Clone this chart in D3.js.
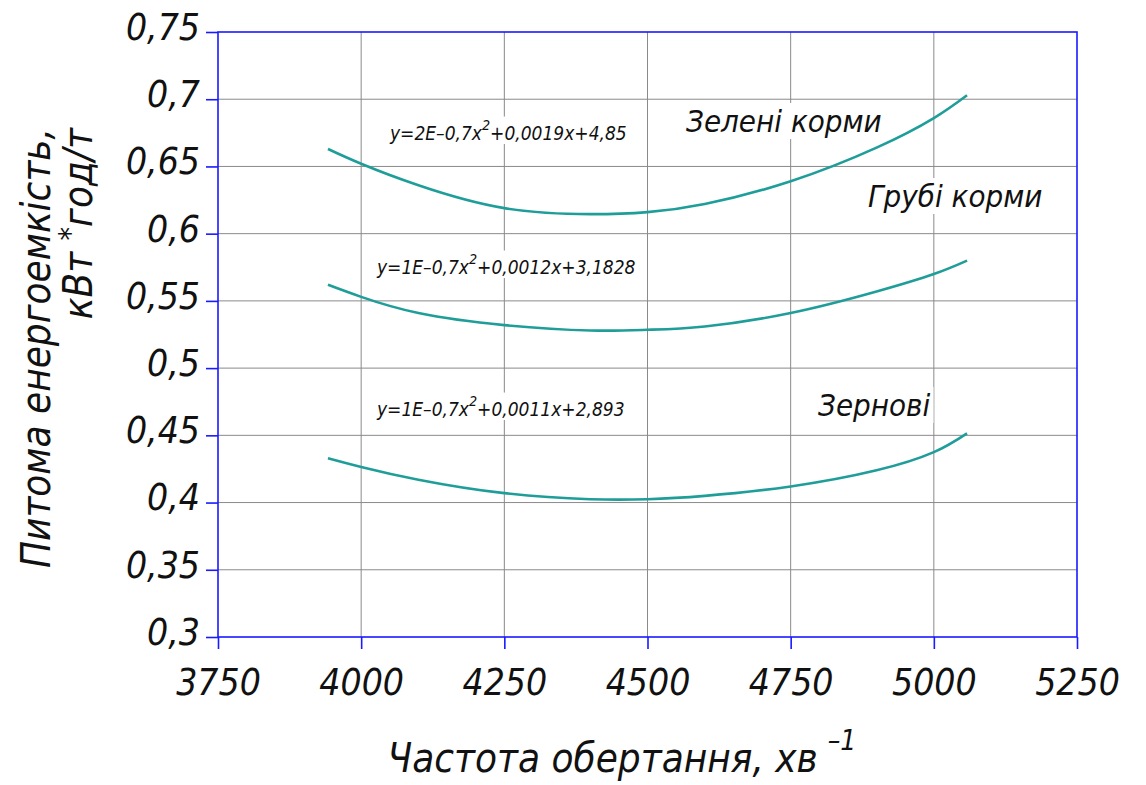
<!DOCTYPE html>
<meta charset="utf-8">
<head>
  <meta charset="utf-8">
  <title>Питома енергоемкість</title>
  <script src="https://d3js.org/d3.v7.min.js"></script>
</head>
<style>
body {margin:0; background:#fff;}
text {font-family: "DejaVu Sans Condensed", "Liberation Sans Narrow", sans-serif; font-style: italic; fill:#111;}
.grid line {stroke:#8a8a8a; stroke-width:1px;}
.axis path, .axis line {stroke:#1a1aff; stroke-width:1.6px;}
.curve {fill:none; stroke:#1f9e99; stroke-width:2.6px;}
</style>
<body>
<script>

// data
var xTicks = [3750, 4000, 4250, 4500, 4750, 5000, 5250];
var xTickLabels = ["3750", "4000", "4250", "4500", "4750", "5000", "5250"];
var yTicks = [0.3, 0.35, 0.4, 0.45, 0.5, 0.55, 0.6, 0.65, 0.7, 0.75];
var yTickLabels = ["0,3", "0,35", "0,4", "0,45", "0,5", "0,55", "0,6", "0,65", "0,7", "0,75"];

var rpm = [3942, 4000, 4100, 4250, 4400, 4500, 4600, 4750, 4900, 5000, 5058];
var zeleni = [0.663, 0.652, 0.636, 0.619, 0.6145, 0.616, 0.622, 0.639, 0.664, 0.686, 0.703];
var grubi = [0.562, 0.553, 0.541, 0.532, 0.528, 0.5285, 0.531, 0.541, 0.557, 0.570, 0.580];
var zernovi = [0.433, 0.4265, 0.417, 0.407, 0.4025, 0.4025, 0.405, 0.412, 0.424, 0.4375, 0.4515];

var seriesNames = ["Зелені корми", "Грубі корми", "Зернові"];
var equations = ["y=2E\u20130,7x", "y=1E\u20130,7x", "y=1E\u20130,7x"];
var equationTails = ["+0,0019x+4,85", "+0,0012x+3,1828", "+0,0011x+2,893"];

var margin = {top: 32, right: 69, bottom: 148, left: 218},
    width = 1146 - margin.left - margin.right,
    height = 785 - margin.top - margin.bottom;

var svg = d3.select("body").append("svg")
    .attr("width", 1146)
    .attr("height", 785)
  .append("g")
    .attr("transform", "translate(" + margin.left + "," + margin.top + ")");

var x = d3.scaleLinear().range([0, width]).domain([3750, 5250]);
var y = d3.scaleLinear().range([height, 0]).domain([0.3, 0.75]);

// grid
svg.append("g").attr("class", "grid")
  .selectAll("line").data(xTicks.slice(1, -1)).enter().append("line")
    .attr("x1", function(d) { return x(d); }).attr("x2", function(d) { return x(d); })
    .attr("y1", 0).attr("y2", height);
svg.append("g").attr("class", "grid")
  .selectAll("line").data(yTicks.slice(1, -1)).enter().append("line")
    .attr("y1", function(d) { return y(d); }).attr("y2", function(d) { return y(d); })
    .attr("x1", 0).attr("x2", width);

// curves
var valueline = d3.line()
    .x(function(d) { return x(d[0]); })
    .y(function(d) { return y(d[1]); })
    .curve(d3.curveNatural);

[zeleni, grubi, zernovi].forEach(function(s) {
  svg.append("path")
    .datum(d3.zip(rpm, s))
    .attr("class", "curve")
    .attr("d", valueline);
});

// box
svg.append("rect").attr("width", width).attr("height", height)
  .attr("fill", "none").attr("stroke", "#1a1aff").attr("stroke-width", 1.6);

// axes
var xAxis = svg.append("g").attr("class", "axis")
    .attr("transform", "translate(0," + height + ")")
    .call(d3.axisBottom(x).tickValues(xTicks).tickSize(12).tickSizeOuter(0)
      .tickFormat(function(d, i) { return xTickLabels[i]; }));
xAxis.selectAll("text").attr("font-size", 37).attr("dy", "1.15em").attr("fill", "#111")
  .style("font-family", "\"DejaVu Sans Condensed\", sans-serif").style("font-weight", "200");

var yAxis = svg.append("g").attr("class", "axis")
    .call(d3.axisLeft(y).tickValues(yTicks).tickSize(12).tickSizeOuter(0)
      .tickFormat(function(d, i) { return yTickLabels[i]; }));
yAxis.selectAll("text").attr("font-size", 37).attr("x", -18).attr("dy", "0.2em").attr("fill", "#111")
  .style("font-family", "\"DejaVu Sans Condensed\", sans-serif");
svg.selectAll(".domain").remove();

// labels with white background
function label(g, txt, px, py, size, sup, tail) {
  var t = g.append("text").attr("x", px).attr("y", py).attr("font-size", size);
  t.append("tspan").text(txt);
  if (sup) {
    t.append("tspan").attr("dy", -size * 0.55).attr("font-size", size * 0.75).text(sup);
    t.append("tspan").attr("dy", size * 0.55).text(tail);
  }
  var b = t.node().getBBox();
  g.insert("rect", function() { return t.node(); })
    .attr("x", b.x - 3).attr("y", b.y).attr("width", b.width + 6).attr("height", b.height)
    .attr("fill", "#fff");
}

var lab = d3.select("svg").append("g");
label(lab, equations[0], 390, 140, 19, "2", equationTails[0]);
label(lab, equations[1], 377, 274, 19, "2", equationTails[1]);
label(lab, equations[2], 377, 416, 19, "2", equationTails[2]);
label(lab, seriesNames[0], 686, 132, 31);
label(lab, seriesNames[1], 868, 207, 31);
label(lab, seriesNames[2], 818, 416, 31);

// axis titles
var xt = d3.select("svg").append("text").attr("x", 622).attr("y", 772)
  .attr("text-anchor", "middle").attr("font-size", 40);
xt.append("tspan").text("Частота обертання, хв");
xt.append("tspan").attr("dx", 10).attr("dy", -22).attr("font-size", 28).text("\u20131");

var yt = d3.select("svg").append("text")
  .attr("transform", "translate(0,0) rotate(-90)")
  .attr("text-anchor", "end").attr("font-size", 40);
yt.append("tspan").attr("x", -128).attr("y", 50).text("Питома енергоемкість,");
var l2 = yt.append("tspan").attr("x", -128).attr("y", 92);
l2.text("кВт ");
yt.append("tspan").attr("dy", -12).attr("font-size", 30).text("*");
yt.append("tspan").attr("dy", 12).text("год/т");

</script>
</body>
